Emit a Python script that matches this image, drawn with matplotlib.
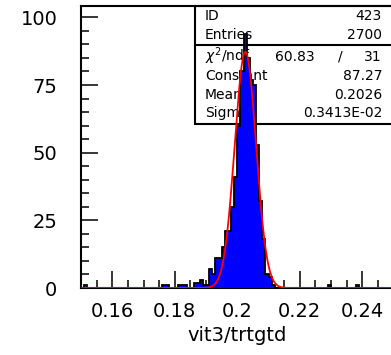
import matplotlib
matplotlib.use("Agg")
import matplotlib.pyplot as plt
import numpy as np
from matplotlib.patches import Rectangle

# histogram: 100 bins of 0.001 from 0.15 to 0.25
x_min, x_max, n_bins = 0.15, 0.25, 100
nonzero = {
    1: 1, 26: 1, 27: 1, 31: 1, 32: 1, 33: 1, 36: 2, 37: 2, 38: 3, 39: 1,
    40: 1, 41: 7, 42: 5, 43: 11, 44: 11, 45: 15, 46: 21, 47: 21, 48: 30,
    49: 41, 50: 60, 51: 80, 52: 94, 53: 85, 54: 77, 55: 75, 56: 53, 57: 32,
    58: 18, 59: 5, 60: 4, 61: 1, 79: 1, 88: 1,
}
counts = np.zeros(n_bins)
for i, c in nonzero.items():
    counts[i] = c
edges = np.linspace(x_min, x_max, n_bins + 1)

# gaussian fit parameters (from stats box)
fit_const = 87.27
fit_mean = 0.2026
fit_sigma = 0.3413e-02

x_ticks = [0.16, 0.18, 0.2, 0.22, 0.24]
x_ticklabels = ["0.16", "0.18", "0.2", "0.22", "0.24"]
y_ticks = [0, 25, 50, 75, 100]

stats_rows = [("ID", "423"), ("Entries", "2700")]
fit_rows = [("Constant", "87.27"), ("Mean", "0.2026"), ("Sigma", "0.3413E-02")]
chi2_val, ndf_val = "60.83", "31"

W, H = 391, 355
fig = plt.figure(figsize=(W / 100, H / 100), dpi=100)
ax_l, ax_r, ax_t, ax_b = 81, 393.5, 6, 288
ax = fig.add_axes([ax_l / W, (H - ax_b) / H, (ax_r - ax_l) / W, (ax_b - ax_t) / H])

ax.stairs(counts, edges, fill=True, color="#0000ff", zorder=3)
ax.stairs(counts, edges, baseline=None, color="black", linewidth=1.3, zorder=4)

xf = np.linspace(x_min, x_max, 2000)
yf = fit_const * np.exp(-0.5 * ((xf - fit_mean) / fit_sigma) ** 2)
ax.plot(xf, yf, color="red", linewidth=1.3, zorder=5)

ax.set_xlim(x_min, x_max)
ax.set_ylim(0, 104.2)

ax.set_xticks(x_ticks)
ax.set_xticklabels(x_ticklabels)
ax.set_xticks(np.arange(0.155, 0.25, 0.005), minor=True)
ax.set_yticks(y_ticks)
ax.set_yticks(np.arange(0, 105, 5), minor=True)
ax.tick_params(which="both", direction="in", width=1.1, colors="black")
ax.tick_params(which="major", length=12.2, labelsize=14)
ax.tick_params(which="minor", length=6)
ax.tick_params(axis="y", pad=17)
ax.tick_params(axis="x", pad=10)
ax.tick_params(top=False, right=False, which="both")
for s in ax.spines.values():
    s.set_linewidth(1.5)

ax.set_xlabel("vit3/trtgtd", fontsize=14, labelpad=4)

# stats box
def fy(py):
    return (ax_b - py) / (ax_b - ax_t)

def fx(px):
    return (px - ax_l) / (ax_r - ax_l)

box_left = fx(195)
ax.add_patch(Rectangle((box_left, fy(124)), 1.1 - box_left, fy(ax_t) - fy(124),
                       transform=ax.transAxes, facecolor="white", edgecolor="black",
                       linewidth=1.5, clip_on=False, zorder=1))
ax.plot([box_left, 1.1], [fy(45), fy(45)], transform=ax.transAxes, color="black",
        linewidth=1.5, clip_on=False, zorder=1)

lab_x, val_x = fx(205), fx(382)
baselines = [20, 39, 80, 99, 117]
for (lab, val), py in zip(stats_rows + fit_rows, baselines):
    ax.text(lab_x, fy(py), lab, transform=ax.transAxes, fontsize=10, va="baseline", zorder=2)
    ax.text(val_x, fy(py), val, transform=ax.transAxes, fontsize=10, va="baseline",
            ha="right", zorder=2)
ax.text(lab_x, fy(61), r"$\chi^2$/ndf", transform=ax.transAxes, fontsize=10,
        va="baseline", zorder=2)
ax.text(fx(315), fy(61), chi2_val, transform=ax.transAxes, fontsize=10,
        va="baseline", ha="right", zorder=2)
ax.text(fx(340), fy(61), "/", transform=ax.transAxes, fontsize=10,
        va="baseline", ha="center", zorder=2)
ax.text(val_x, fy(61), ndf_val, transform=ax.transAxes, fontsize=10,
        va="baseline", ha="right", zorder=2)

fig.savefig("out.png", dpi=100)
